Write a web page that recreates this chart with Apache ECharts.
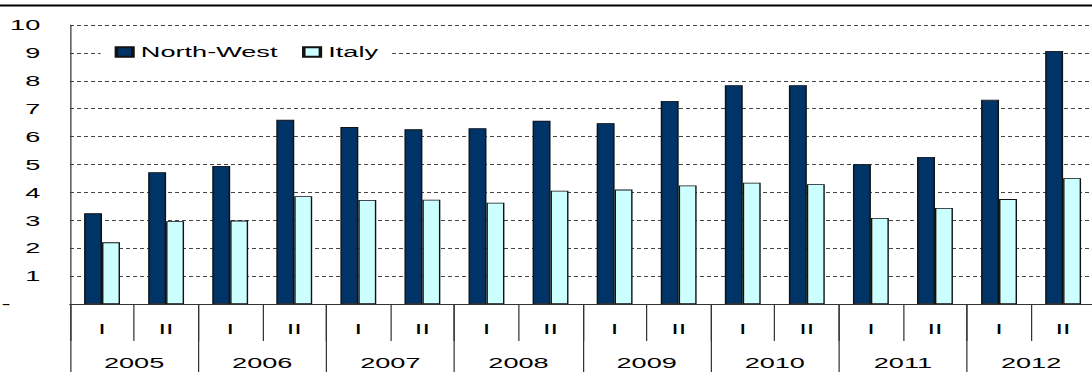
<!DOCTYPE html>
<html>
<head>
<meta charset="utf-8">
<script src="https://cdn.jsdelivr.net/npm/echarts@6/dist/echarts.min.js"></script>
<style>
  html, body { margin: 0; padding: 0; background: #fff; overflow: hidden; }
  /* the chart is laid out narrow and widened horizontally, giving the wide lettering */
  #chart { width: 624px; height: 372px; transform: scaleX(1.75); transform-origin: 0 0; }
</style>
</head>
<body>
<div id="chart"></div>
<script>
// half-year periods and years
const halves = ['I', 'II', 'I', 'II', 'I', 'II', 'I', 'II', 'I', 'II', 'I', 'II', 'I', 'II', 'I', 'II'];
const years = ['2005', '2006', '2007', '2008', '2009', '2010', '2011', '2012'];

// values per half-year
const northWest = [3.25, 4.72, 4.95, 6.60, 6.34, 6.26, 6.30, 6.57, 6.48, 7.28, 7.84, 7.84, 5.01, 5.27, 7.32, 9.07];
const italy     = [2.21, 2.97, 2.99, 3.86, 3.73, 3.74, 3.63, 4.06, 4.10, 4.25, 4.35, 4.29, 3.08, 3.44, 3.76, 4.51];

const FONT = '"Liberation Sans", Arial, sans-serif';
const FS = 15.5;

const chart = echarts.init(document.getElementById('chart'), null, { renderer: 'svg' });

chart.setOption({
  animation: false,
  backgroundColor: '#ffffff',
  textStyle: { fontFamily: FONT, color: '#000' },
  graphic: [
    { type: 'rect', left: 0, top: 4.5, shape: { width: 624, height: 2 }, style: { fill: '#000' }, silent: true }
  ],
  legend: {
    left: 57.5,
    top: 42,
    padding: [2, 8, 2, 8],
    backgroundColor: '#ffffff',
    itemWidth: 9.5,
    itemHeight: 9.5,
    itemGap: 14,
    icon: 'rect',
    textStyle: { fontFamily: FONT, fontSize: FS, color: '#000', padding: [0, 0, 0, -0.5] },
    data: ['North-West', 'Italy']
  },
  grid: {
    left: 40,
    top: 25,
    width: 585.8,
    bottom: 68,
    outerBoundsMode: 'none',
    containLabel: false
  },
  xAxis: [
    {
      type: 'category',
      data: halves,
      position: 'bottom',
      boundaryGap: true,
      axisLine: { show: true, lineStyle: { color: '#333', width: 1 } },
      axisTick: { show: true, interval: 0, length: 37, lineStyle: { color: '#333', width: 0.7 } },
      axisLabel: { interval: 0, margin: 17, fontFamily: FONT, fontSize: FS, color: '#000' },
      splitLine: { show: false }
    },
    {
      type: 'category',
      data: years,
      position: 'bottom',
      boundaryGap: true,
      axisLine: { show: false },
      axisTick: { show: true, interval: 0, length: 70, lineStyle: { color: '#333', width: 0.7 } },
      axisLabel: { interval: 0, margin: 51, fontFamily: FONT, fontSize: FS, color: '#000' },
      splitLine: { show: false }
    }
  ],
  yAxis: {
    type: 'value',
    min: 0,
    max: 10,
    interval: 1,
    axisLine: { show: true, lineStyle: { color: '#333', width: 0.7 } },
    axisTick: { show: false },
    axisLabel: {
      margin: 17,
      fontFamily: FONT,
      fontSize: FS,
      color: '#000',
      formatter: function (v) { return v === 0 ? '{d|-}' : String(v); },
      rich: { d: { fontFamily: FONT, fontSize: FS, color: '#000', padding: [0, 17, 0, 0] } }
    },
    splitLine: { show: true, lineStyle: { color: '#444', width: 1, type: [2.3, 1.7] } }
  },
  series: [
    {
      name: 'North-West',
      type: 'bar',
      data: northWest,
      barGap: '0%',
      barCategoryGap: '44%',
      itemStyle: { color: '#003366', borderColor: '#111', borderWidth: 0.8 }
    },
    {
      name: 'Italy',
      type: 'bar',
      data: italy,
      barGap: '0%',
      barCategoryGap: '44%',
      itemStyle: { color: '#ccffff', borderColor: '#111', borderWidth: 0.8 }
    }
  ]
});
</script>
</body>
</html>
